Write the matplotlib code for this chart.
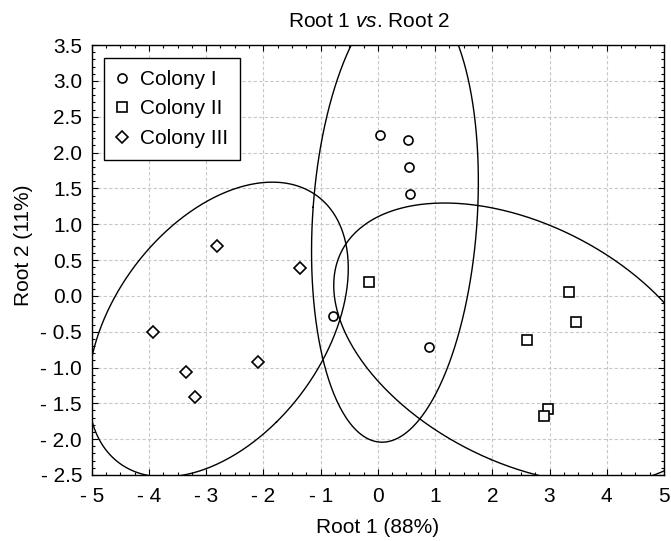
import numpy as np
import matplotlib
matplotlib.use("Agg")
import matplotlib.pyplot as plt
from matplotlib.ticker import MultipleLocator, FuncFormatter

plt.rcParams["font.family"] = ["Liberation Sans", "DejaVu Sans"]
plt.rcParams["mathtext.fontset"] = "custom"
plt.rcParams["mathtext.rm"] = "Liberation Sans"
plt.rcParams["mathtext.it"] = "Liberation Sans:italic"

# scores
col1_x = [0.04, 0.52, 0.55, 0.56, -0.78, 0.90]
col1_y = [2.25, 2.17, 1.80, 1.42, -0.28, -0.72]
col2_x = [-0.15, 3.34, 3.47, 2.61, 2.97, 2.90]
col2_y = [0.20, 0.05, -0.36, -0.61, -1.575, -1.67]
col3_x = [-2.815, -1.36, -3.93, -3.35, -3.19, -2.09]
col3_y = [0.69, 0.39, -0.50, -1.06, -1.41, -0.93]

labels = ["Colony I", "Colony II", "Colony III"]
markers = ["o", "s", "D"]
sizes = [6.5, 6.5, 6]


def ellipse(x, y, coverage_chi2=5.991, n=400):
    """Ellipse de prédiction à 95 % à partir de la covariance"""
    x = np.asarray(x)
    y = np.asarray(y)
    cov = np.cov(x, y)
    vals, vecs = np.linalg.eigh(cov)
    t = np.linspace(0, 2 * np.pi, n)
    circ = np.vstack([np.cos(t), np.sin(t)])
    pts = vecs @ (np.sqrt(vals * coverage_chi2)[:, None] * circ)
    return pts[0] + x.mean(), pts[1] + y.mean()


def fmt(v, dec):
    if abs(v) < 1e-9:
        return f"{0:.{dec}f}"
    s = f"{abs(v):.{dec}f}"
    return "- " + s if v < 0 else s


fig = plt.figure(figsize=(6.71, 5.41), dpi=100)
ax = fig.add_axes([0.1367, 0.122, 0.8529, 0.7948])

groups = [(col1_x, col1_y), (col2_x, col2_y), (col3_x, col3_y)]
for (gx, gy), lab, m, s in zip(groups, labels, markers, sizes):
    ax.plot(gx, gy, linestyle="none", marker=m, markersize=s,
            markerfacecolor="white", markeredgecolor="black",
            markeredgewidth=1.2, label=lab, zorder=3)
    ex, ey = ellipse(gx, gy)
    ax.plot(ex, ey, color="black", linewidth=1.0, zorder=2)

ax.set_xlim(-5, 5)
ax.set_ylim(-2.5, 3.5)
ax.xaxis.set_major_locator(MultipleLocator(1))
ax.xaxis.set_minor_locator(MultipleLocator(0.25))
ax.yaxis.set_major_locator(MultipleLocator(0.5))
ax.yaxis.set_minor_locator(MultipleLocator(0.1))
ax.xaxis.set_major_formatter(FuncFormatter(lambda v, p: fmt(v, 0)))
ax.yaxis.set_major_formatter(FuncFormatter(lambda v, p: fmt(v, 1)))
ax.tick_params(which="both", direction="in", top=True, right=True,
               labelsize=15, width=0.8)
ax.tick_params(axis="x", which="both", pad=9)
ax.tick_params(axis="y", which="both", pad=7)
ax.tick_params(which="major", length=4)
ax.tick_params(which="minor", length=2.5)
for sp in ax.spines.values():
    sp.set_linewidth(1.0)

ax.grid(True, which="major", linestyle=(0, (3, 2)), color="#c8c8c8",
        linewidth=0.8, zorder=0)
ax.set_axisbelow(True)

ax.set_title(r"Root 1 $\mathit{vs}$. Root 2", fontsize=15, pad=13, x=0.485)
ax.set_xlabel("Root 1 (88%)", fontsize=15, labelpad=8)
ax.set_ylabel("Root 2 (11%)", fontsize=15)
ax.yaxis.set_label_coords(-0.103, 0.535)

leg = ax.legend(loc="upper left", fontsize=15, frameon=True, fancybox=False,
                edgecolor="black", framealpha=1, borderaxespad=0.6,
                handletextpad=0.6, labelspacing=0.5, handlelength=0.5,
                borderpad=0.6)
leg.get_frame().set_linewidth(1.0)

fig.savefig("out.png", dpi=100)
